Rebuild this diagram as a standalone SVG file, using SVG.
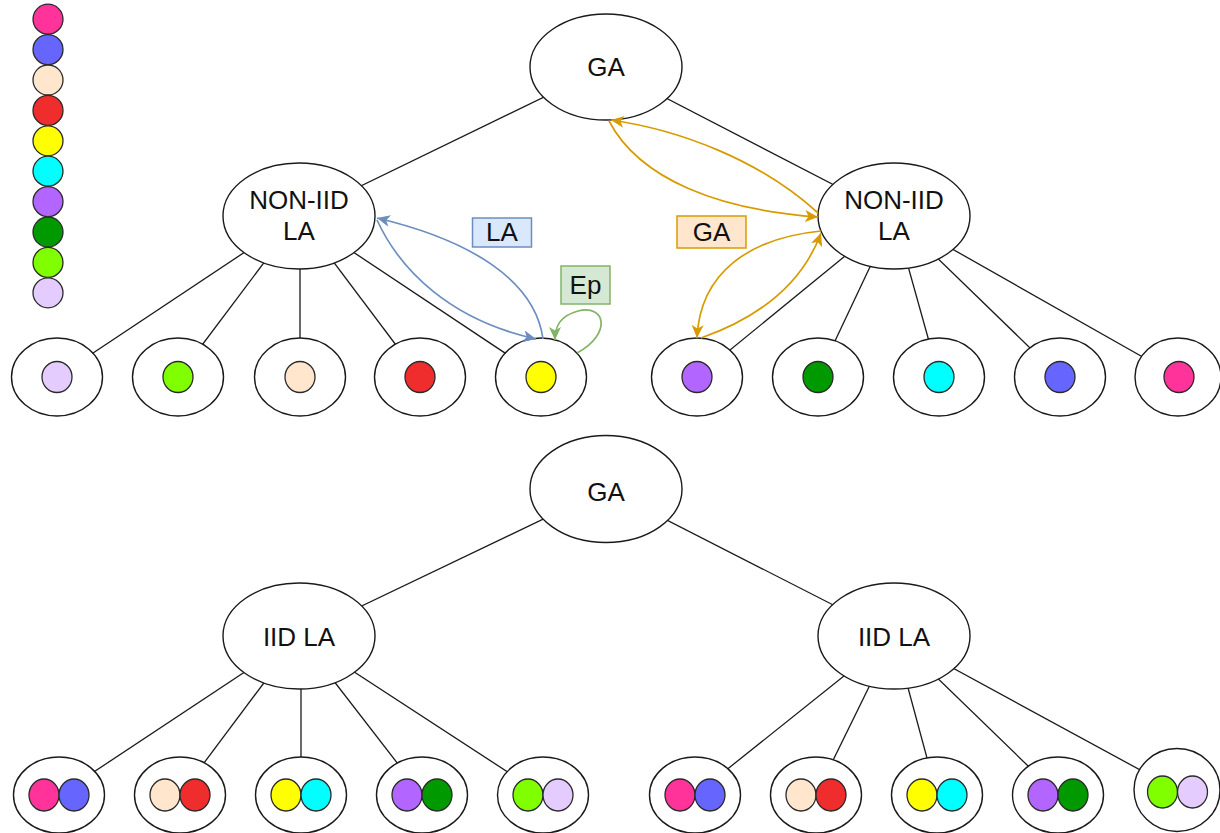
<svg xmlns="http://www.w3.org/2000/svg" width="1220" height="833" viewBox="0 0 1220 833">
  <defs>
    <style>
      .edge { stroke: #1a1a1a; stroke-width: 1.3; fill: none; }
      .node { fill: #ffffff; stroke: #1a1a1a; stroke-width: 1.4; }
      .dot { stroke: #2a2a2a; stroke-width: 1.3; }
      .lbl { font-family: "Liberation Sans", Arial, sans-serif; font-size: 26px; fill: #111111; text-anchor: middle; }
      .c-pink { fill: #FF3399; }
      .c-blue { fill: #6666FF; }
      .c-peach { fill: #FFE6CC; }
      .c-red { fill: #EF2D2D; }
      .c-yellow { fill: #FFFF00; }
      .c-cyan { fill: #00FFFF; }
      .c-purple { fill: #B266FF; }
      .c-green { fill: #009900; }
      .c-lime { fill: #80FF00; }
      .c-lav { fill: #E5CCFF; }
      .flow-la { stroke: #6C8EBF; stroke-width: 1.7; fill: none; marker-end: url(#arrow-la); }
      .flow-ga { stroke: #D79B00; stroke-width: 1.7; fill: none; marker-end: url(#arrow-ga); }
      .flow-ep { stroke: #82B366; stroke-width: 1.7; fill: none; marker-end: url(#arrow-ep); }
    </style>
    <marker id="arrow-la" markerUnits="userSpaceOnUse" markerWidth="14" markerHeight="12" refX="13" refY="6" orient="auto">
      <path d="M0,0 L13,6 L0,12 L3.5,6 z" fill="#6C8EBF"/>
    </marker>
    <marker id="arrow-ga" markerUnits="userSpaceOnUse" markerWidth="14" markerHeight="12" refX="13" refY="6" orient="auto">
      <path d="M0,0 L13,6 L0,12 L3.5,6 z" fill="#D79B00"/>
    </marker>
    <marker id="arrow-ep" markerUnits="userSpaceOnUse" markerWidth="14" markerHeight="12" refX="13" refY="6" orient="auto">
      <path d="M0,0 L13,6 L0,12 L3.5,6 z" fill="#82B366"/>
    </marker>
  </defs>

  <rect width="1220" height="833" fill="#ffffff"/>

  <!-- colour legend -->
  <g id="legend">
    <circle class="dot c-pink" cx="48" cy="19.2" r="15"/>
    <circle class="dot c-blue" cx="48" cy="49.6" r="15"/>
    <circle class="dot c-peach" cx="48" cy="80" r="15"/>
    <circle class="dot c-red" cx="48" cy="110.4" r="15"/>
    <circle class="dot c-yellow" cx="48" cy="140.8" r="15"/>
    <circle class="dot c-cyan" cx="48" cy="171.2" r="15"/>
    <circle class="dot c-purple" cx="48" cy="201.6" r="15"/>
    <circle class="dot c-green" cx="48" cy="232" r="15"/>
    <circle class="dot c-lime" cx="48" cy="262.4" r="15"/>
    <circle class="dot c-lav" cx="48" cy="292.8" r="15"/>
  </g>

  <!-- tree edges (drawn centre to centre, nodes cover the ends) -->
  <g id="connectors">
    <line class="edge" x1="606" y1="67" x2="299" y2="216"/>
    <line class="edge" x1="606" y1="67" x2="894" y2="216"/>
    <line class="edge" x1="299" y1="216" x2="57" y2="377"/>
    <line class="edge" x1="299" y1="216" x2="178" y2="377"/>
    <line class="edge" x1="300" y1="216" x2="300" y2="377"/>
    <line class="edge" x1="299" y1="216" x2="420" y2="377"/>
    <line class="edge" x1="299" y1="216" x2="541" y2="377"/>
    <line class="edge" x1="894" y1="216" x2="697" y2="377"/>
    <line class="edge" x1="894" y1="216" x2="818" y2="377"/>
    <line class="edge" x1="894" y1="216" x2="939" y2="377"/>
    <line class="edge" x1="894" y1="216" x2="1060" y2="377"/>
    <line class="edge" x1="894" y1="216" x2="1178" y2="377"/>

    <line class="edge" x1="606" y1="489" x2="299" y2="636"/>
    <line class="edge" x1="606" y1="489" x2="894" y2="636"/>
    <line class="edge" x1="299" y1="636" x2="59" y2="795"/>
    <line class="edge" x1="299" y1="636" x2="180" y2="795"/>
    <line class="edge" x1="301" y1="636" x2="301" y2="795"/>
    <line class="edge" x1="299" y1="636" x2="422" y2="795"/>
    <line class="edge" x1="299" y1="636" x2="543" y2="795"/>
    <line class="edge" x1="894" y1="636" x2="695" y2="795"/>
    <line class="edge" x1="894" y1="636" x2="816" y2="795"/>
    <line class="edge" x1="894" y1="636" x2="937" y2="795"/>
    <line class="edge" x1="894" y1="636" x2="1058" y2="795"/>
    <line class="edge" x1="894" y1="636" x2="1177" y2="790"/>
  </g>

  <!-- non-IID tree -->
  <g id="ga-top">
    <ellipse class="node" cx="606" cy="67" rx="76" ry="53"/>
    <text class="lbl" x="606" y="76">GA</text>
  </g>
  <g id="la-noniid-left">
    <ellipse class="node" cx="299" cy="216" rx="76" ry="53"/>
    <text class="lbl" x="299" y="209">NON-IID</text>
    <text class="lbl" x="299" y="240">LA</text>
  </g>
  <g id="la-noniid-right">
    <ellipse class="node" cx="894" cy="216" rx="76" ry="53"/>
    <text class="lbl" x="894" y="209">NON-IID</text>
    <text class="lbl" x="894" y="240">LA</text>
  </g>

  <g id="client-n1"><ellipse class="node" cx="57" cy="377" rx="45.5" ry="39"/><ellipse class="dot c-lav" cx="57" cy="377" rx="15" ry="15.5"/></g>
  <g id="client-n2"><ellipse class="node" cx="178" cy="377" rx="45.5" ry="39"/><ellipse class="dot c-lime" cx="178" cy="377" rx="15" ry="15.5"/></g>
  <g id="client-n3"><ellipse class="node" cx="300" cy="377" rx="45.5" ry="39"/><ellipse class="dot c-peach" cx="300" cy="377" rx="15" ry="15.5"/></g>
  <g id="client-n4"><ellipse class="node" cx="420" cy="377" rx="45.5" ry="39"/><ellipse class="dot c-red" cx="420" cy="377" rx="15" ry="15.5"/></g>
  <g id="client-n5"><ellipse class="node" cx="541" cy="377" rx="45.5" ry="39"/><ellipse class="dot c-yellow" cx="541" cy="377" rx="15" ry="15.5"/></g>
  <g id="client-n6"><ellipse class="node" cx="697" cy="377" rx="45.5" ry="39"/><ellipse class="dot c-purple" cx="697" cy="377" rx="15" ry="15.5"/></g>
  <g id="client-n7"><ellipse class="node" cx="818" cy="377" rx="45.5" ry="39"/><ellipse class="dot c-green" cx="818" cy="377" rx="15" ry="15.5"/></g>
  <g id="client-n8"><ellipse class="node" cx="939" cy="377" rx="45.5" ry="39"/><ellipse class="dot c-cyan" cx="939" cy="377" rx="15" ry="15.5"/></g>
  <g id="client-n9"><ellipse class="node" cx="1060" cy="377" rx="45.5" ry="39"/><ellipse class="dot c-blue" cx="1060" cy="377" rx="15" ry="15.5"/></g>
  <g id="client-n10"><ellipse class="node" cx="1178" cy="377" rx="43" ry="39"/><ellipse class="dot c-pink" cx="1179" cy="377" rx="15" ry="15.5"/></g>

  <!-- IID tree -->
  <g id="ga-bottom">
    <ellipse class="node" cx="606" cy="489" rx="76" ry="53.5"/>
    <text class="lbl" x="606" y="501">GA</text>
  </g>
  <g id="la-iid-left">
    <ellipse class="node" cx="299" cy="636" rx="76" ry="53"/>
    <text class="lbl" x="299" y="646">IID LA</text>
  </g>
  <g id="la-iid-right">
    <ellipse class="node" cx="894" cy="636" rx="76" ry="53"/>
    <text class="lbl" x="894" y="646">IID LA</text>
  </g>

  <g id="client-i1"><ellipse class="node" cx="59" cy="795" rx="45.5" ry="38"/><ellipse class="dot c-pink" cx="44" cy="795" rx="15" ry="16"/><ellipse class="dot c-blue" cx="74" cy="795" rx="15" ry="16"/></g>
  <g id="client-i2"><ellipse class="node" cx="180" cy="795" rx="45.5" ry="38"/><ellipse class="dot c-peach" cx="165" cy="795" rx="15" ry="16"/><ellipse class="dot c-red" cx="195" cy="795" rx="15" ry="16"/></g>
  <g id="client-i3"><ellipse class="node" cx="301" cy="795" rx="45.5" ry="38"/><ellipse class="dot c-yellow" cx="286" cy="795" rx="15" ry="16"/><ellipse class="dot c-cyan" cx="316" cy="795" rx="15" ry="16"/></g>
  <g id="client-i4"><ellipse class="node" cx="422" cy="795" rx="45.5" ry="38"/><ellipse class="dot c-purple" cx="407" cy="795" rx="15" ry="16"/><ellipse class="dot c-green" cx="437" cy="795" rx="15" ry="16"/></g>
  <g id="client-i5"><ellipse class="node" cx="543" cy="795" rx="45.5" ry="38"/><ellipse class="dot c-lime" cx="528" cy="795" rx="15" ry="16"/><ellipse class="dot c-lav" cx="558" cy="795" rx="15" ry="16"/></g>
  <g id="client-i6"><ellipse class="node" cx="695" cy="795" rx="45.5" ry="38"/><ellipse class="dot c-pink" cx="680" cy="795" rx="15" ry="16"/><ellipse class="dot c-blue" cx="710" cy="795" rx="15" ry="16"/></g>
  <g id="client-i7"><ellipse class="node" cx="816" cy="795" rx="45.5" ry="38"/><ellipse class="dot c-peach" cx="801" cy="795" rx="15" ry="16"/><ellipse class="dot c-red" cx="831" cy="795" rx="15" ry="16"/></g>
  <g id="client-i8"><ellipse class="node" cx="937" cy="795" rx="45.5" ry="38"/><ellipse class="dot c-yellow" cx="922" cy="795" rx="15" ry="16"/><ellipse class="dot c-cyan" cx="952" cy="795" rx="15" ry="16"/></g>
  <g id="client-i9"><ellipse class="node" cx="1058" cy="795" rx="45.5" ry="38"/><ellipse class="dot c-purple" cx="1043" cy="795" rx="15" ry="16"/><ellipse class="dot c-green" cx="1073" cy="795" rx="15" ry="16"/></g>
  <g id="client-i10"><ellipse class="node" cx="1177" cy="790" rx="43" ry="41.5"/><ellipse class="dot c-lime" cx="1162.5" cy="792" rx="15" ry="16"/><ellipse class="dot c-lav" cx="1192.5" cy="792" rx="15" ry="16"/></g>

  <!-- aggregation / update flows -->
  <g id="flows">
    <path class="flow-la" d="M 543 339 C 535 280, 470 240, 377 218"/>
    <path class="flow-la" d="M 377 220 C 400 270, 450 320, 536 339"/>
    <path class="flow-ep" d="M 577 353 C 612 334, 606 304, 578 311 C 560 316, 555 326, 555 340"/>
    <path class="flow-ga" d="M 818 213 C 760 160, 680 130, 611 120"/>
    <path class="flow-ga" d="M 609 121 C 640 180, 720 210, 818 217"/>
    <path class="flow-ga" d="M 821 231 C 750 238, 700 272, 697 338"/>
    <path class="flow-ga" d="M 701 338 C 752 320, 800 290, 821 233"/>
  </g>

  <g id="label-la">
    <rect x="472.5" y="218" width="59" height="29" fill="#DAE8FC" stroke="#6C8EBF" stroke-width="1.5"/>
    <text class="lbl" x="502" y="241">LA</text>
  </g>
  <g id="label-ep">
    <rect x="561" y="266" width="49" height="38" fill="#D5E8D4" stroke="#82B366" stroke-width="1.5"/>
    <text class="lbl" x="585.5" y="294">Ep</text>
  </g>
  <g id="label-ga">
    <rect x="677" y="216" width="69" height="32" fill="#FFE6CC" stroke="#D79B00" stroke-width="1.5"/>
    <text class="lbl" x="711.5" y="241">GA</text>
  </g>
</svg>
